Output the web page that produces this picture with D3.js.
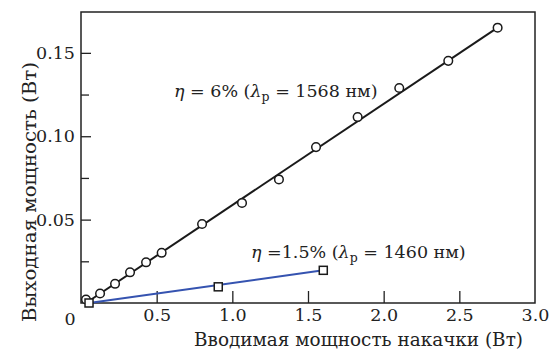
<!DOCTYPE html>
<html>
<head>
<meta charset="utf-8">
<script src="https://cdn.jsdelivr.net/npm/d3@7"></script>
<style>
  body { margin: 0; background: #fff; }
</style>
</head>
<body>
<div id="chart"></div>
<script>
// measured points, 1568 nm pump
const pumpA = [0.033, 0.126, 0.225, 0.324, 0.43, 0.533, 0.80, 1.064, 1.308, 1.553, 1.828, 2.103, 2.427, 2.753];
const outA = [0.0021, 0.0057, 0.0115, 0.0184, 0.0244, 0.0301, 0.0474, 0.060, 0.0741, 0.0935, 0.1115, 0.1289, 0.1452, 0.1651];
// linear fit endpoints
const fitAx = [0.033, 2.753];
const fitAy = [0.0, 0.1651];

// measured points, 1460 nm pump
const pumpB = [0.053, 0.907, 1.601];
const outB = [0.0, 0.0097, 0.0196];
const fitBx = [0.053, 1.601];
const fitBy = [0.0, 0.0196];

const xTicks = [0.5, 1.0, 1.5, 2.0, 2.5, 3.0];
const yTicks = [0.05, 0.10, 0.15];
const yMinor = [0.025, 0.075, 0.125];

const FONT = "'DejaVu Serif', serif";
const width = 550, height = 352;
const margin = { top: 12, right: 15, bottom: 49, left: 81 };
const iw = width - margin.left - margin.right;
const ih = height - margin.top - margin.bottom;

const svg = d3.select('#chart').append('svg')
  .attr('width', width)
  .attr('height', height)
  .attr('font-family', FONT);

const x = d3.scaleLinear().domain([0, 3.0]).range([0, iw]);
const y = d3.scaleLinear().domain([0, 0.1745]).range([ih, 0]);

const g = svg.append('g').attr('transform', `translate(${margin.left},${margin.top})`);

// frame
g.append('rect')
  .attr('width', iw).attr('height', ih)
  .attr('fill', 'none').attr('stroke', '#222').attr('stroke-width', 1.5);

// x ticks (inward)
const xAxis = d3.axisBottom(x).tickValues(xTicks).tickSize(-12).tickPadding(6)
  .tickFormat(d => d.toFixed(1));
g.append('g').attr('transform', `translate(0,${ih})`).call(xAxis)
  .attr('font-family', FONT)
  .call(a => a.select('.domain').remove())
  .call(a => a.selectAll('line').attr('stroke', '#222').attr('stroke-width', 1.3))
  .call(a => a.selectAll('text').attr('font-size', 17.5).attr('fill', '#222'))
  .call(a => a.selectAll('.tick').filter(d => d === 3.0).select('line').remove());

// y ticks (inward)
const yAxis = d3.axisLeft(y).tickValues(yTicks).tickSize(-10).tickPadding(6)
  .tickFormat(d => d.toFixed(2));
g.append('g').call(yAxis)
  .attr('font-family', FONT)
  .call(a => a.select('.domain').remove())
  .call(a => a.selectAll('line').attr('stroke', '#222').attr('stroke-width', 1.3))
  .call(a => a.selectAll('text').attr('font-size', 17.5).attr('fill', '#222'));
g.append('g').call(d3.axisLeft(y).tickValues(yMinor).tickSize(-8).tickFormat(''))
  .call(a => a.select('.domain').remove())
  .call(a => a.selectAll('line').attr('stroke', '#222').attr('stroke-width', 1.3));

// shared origin label
g.append('text').attr('x', -11).attr('y', ih + 22)
  .attr('text-anchor', 'middle').attr('font-size', 17.5).attr('fill', '#222').text('0');

// fit lines
const line = d3.line().x(d => x(d[0])).y(d => y(d[1]));
g.append('path').datum(d3.zip(fitBx, fitBy))
  .attr('d', line).attr('fill', 'none').attr('stroke', '#3553b0').attr('stroke-width', 2);
g.append('path').datum(d3.zip(fitAx, fitAy))
  .attr('d', line).attr('fill', 'none').attr('stroke', '#1a1a1a').attr('stroke-width', 2);

// circles
g.selectAll('.pa').data(d3.zip(pumpA, outA)).enter().append('circle')
  .attr('class', 'pa')
  .attr('cx', d => x(d[0])).attr('cy', d => y(d[1])).attr('r', 4.3)
  .attr('fill', '#fff').attr('stroke', '#1a1a1a').attr('stroke-width', 1.5);

// squares
const sq = 8;
g.selectAll('.pb').data(d3.zip(pumpB, outB)).enter().append('rect')
  .attr('class', 'pb')
  .attr('x', d => x(d[0]) - sq / 2).attr('y', d => y(d[1]) - sq / 2)
  .attr('width', sq).attr('height', sq)
  .attr('fill', '#fff').attr('stroke', '#1a1a1a').attr('stroke-width', 1.5);

// annotations
function label(tx, ty, eta) {
  const t = g.append('text').attr('x', tx).attr('y', ty).attr('font-size', 17.5).attr('fill', '#222');
  t.append('tspan').attr('font-style', 'italic').text('η');
  t.append('tspan').text(eta[0]);
  t.append('tspan').attr('font-style', 'italic').text('λ');
  t.append('tspan').attr('font-size', 12.5).attr('dy', 4).text('p');
  t.append('tspan').attr('dy', -4).text(eta[1]);
}
label(174 - margin.left, 97 - margin.top, [' = 6% (', ' = 1568 нм)']);
label(251 - margin.left, 258 - margin.top, [' =1.5% (', ' = 1460 нм)']);

// axis titles
svg.append('text')
  .attr('x', 194).attr('y', 346)
  .attr('font-size', 18.5).attr('fill', '#222')
  .attr('textLength', 329).attr('lengthAdjust', 'spacingAndGlyphs')
  .text('Вводимая мощность накачки (Вт)');
svg.append('text')
  .attr('transform', 'translate(36,322) rotate(-90)')
  .attr('font-size', 18.5).attr('fill', '#222')
  .attr('textLength', 260).attr('lengthAdjust', 'spacingAndGlyphs')
  .text('Выходная мощность (Вт)');
</script>
</body>
</html>
